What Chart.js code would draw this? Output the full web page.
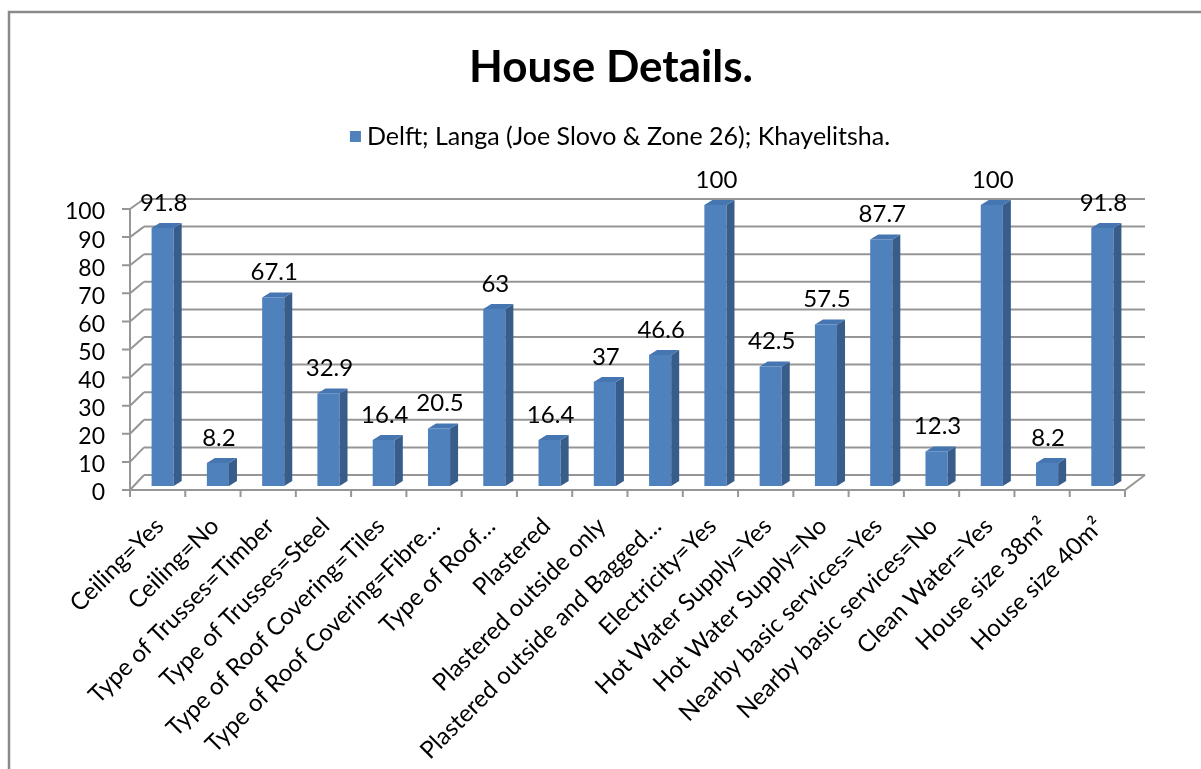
<!DOCTYPE html>
<html>
<head>
<meta charset="utf-8">
<title>House Details.</title>
<script src="https://cdn.jsdelivr.net/npm/chart.js@4/dist/chart.umd.min.js"></script>
<style>
  html, body { margin: 0; padding: 0; background: #fff; }
  #wrap { width: 1201px; height: 769px; position: relative; }
</style>
</head>
<body>
<div id="wrap"><canvas id="myChart" width="1201" height="769"></canvas></div>
<script>
const chartTitle = 'House Details.';
const seriesName = 'Delft; Langa (Joe Slovo & Zone 26); Khayelitsha.';
const categories = [
  'Ceiling=Yes', 'Ceiling=No', 'Type of Trusses=Timber', 'Type of Trusses=Steel',
  'Type of Roof Covering=Tiles', 'Type of Roof Covering=Fibre\u2026', 'Type of Roof\u2026',
  'Plastered', 'Plastered outside only', 'Plastered outside and Bagged\u2026',
  'Electricity=Yes', 'Hot Water Supply=Yes', 'Hot Water Supply=No',
  'Nearby basic services=Yes', 'Nearby basic services=No', 'Clean Water=Yes',
  'House size 38m\u00b2', 'House size 40m\u00b2'
];
const percentValues = [91.8, 8.2, 67.1, 32.9, 16.4, 20.5, 63, 16.4, 37, 46.6, 100, 42.5, 57.5, 87.7, 12.3, 100, 8.2, 91.8];
const yTicks = [0, 10, 20, 30, 40, 50, 60, 70, 80, 90, 100];

const blue = '#4f81bd';
const blueSide = '#385d8a';
const blueTop = '#4676b2';
const gridGray = '#969696';
const fontFam = 'Lato, "Open Sans", sans-serif';

Chart.defaults.font.family = fontFam;
Chart.defaults.color = '#000';

// walls, floor and front axis of the 3-D look
const walls3d = {
  id: 'walls3d',
  beforeDatasetsDraw(chart) {
    const ctx = chart.ctx, ca = chart.chartArea, ys = chart.scales.y;
    const xf0 = ca.left - 5, xf1 = ca.right - 5;
    const xb0 = ca.left + 9, xb1 = ca.right + 15;
    const fy = v => ys.getPixelForValue(v) + 4;
    const by = v => ys.getPixelForValue(v) - 11 + v * 0.05;
    ctx.save();
    ctx.strokeStyle = gridGray;
    ctx.lineWidth = 2;
    yTicks.forEach(v => {
      ctx.beginPath();
      ctx.moveTo(xb0, by(v)); ctx.lineTo(xb1, by(v));
      ctx.moveTo(xf0, fy(v)); ctx.lineTo(xb0, by(v));
      ctx.moveTo(xf0 - 8, fy(v)); ctx.lineTo(xf0, fy(v));
      ctx.stroke();
    });
    ctx.beginPath();
    ctx.moveTo(xf0, fy(100)); ctx.lineTo(xf0, fy(0));
    ctx.lineTo(xf1, fy(0)); ctx.lineTo(xb1, by(0));
    ctx.stroke();
    const n = categories.length;
    for (let i = 0; i <= n; i++) {
      const x = xf0 + (xf1 - xf0) * i / n;
      ctx.beginPath();
      ctx.moveTo(x, fy(0)); ctx.lineTo(x, fy(0) + 7);
      ctx.stroke();
    }
    ctx.restore();
  },
  afterDatasetsDraw(chart) {
    const ctx = chart.ctx;
    const meta = chart.getDatasetMeta(0);
    const dx = 8, dy = 5;
    ctx.save();
    meta.data.forEach((bar, i) => {
      const l = bar.x - bar.width / 2, r = bar.x + bar.width / 2;
      const top = bar.y, base = bar.base;
      ctx.fillStyle = blueSide;
      ctx.beginPath();
      ctx.moveTo(r, top); ctx.lineTo(r + dx, top - dy);
      ctx.lineTo(r + dx, base - dy); ctx.lineTo(r, base);
      ctx.closePath(); ctx.fill();
      ctx.fillStyle = blueTop;
      ctx.beginPath();
      ctx.moveTo(l, top); ctx.lineTo(l + dx, top - dy);
      ctx.lineTo(r + dx, top - dy); ctx.lineTo(r, top);
      ctx.closePath(); ctx.fill();
      // value label
      ctx.fillStyle = '#000';
      ctx.font = '24px ' + fontFam;
      ctx.textAlign = 'center';
      ctx.textBaseline = 'middle';
      ctx.fillText(String(percentValues[i]), bar.x + 1, top - 25);
    });
    ctx.restore();
  },
  afterDraw(chart) {
    const ctx = chart.ctx;
    ctx.save();
    // outer frame (only left and top visible)
    ctx.strokeStyle = '#8a8a8a';
    ctx.lineWidth = 2.5;
    ctx.beginPath();
    ctx.moveTo(9, 769); ctx.lineTo(9, 12); ctx.lineTo(1201, 12);
    ctx.stroke();
    // title
    ctx.fillStyle = '#000';
    ctx.font = 'bold 44px ' + fontFam;
    ctx.textAlign = 'center';
    ctx.textBaseline = 'middle';
    ctx.fillText(chartTitle, 611, 68);
    // legend
    ctx.font = '25px ' + fontFam;
    const tw = ctx.measureText(seriesName).width;
    const total = 11 + 6 + tw;
    const x0 = 620 - total / 2;
    ctx.fillStyle = blue;
    ctx.fillRect(x0, 131, 11, 11);
    ctx.fillStyle = '#000';
    ctx.textAlign = 'left';
    ctx.fillText(seriesName, x0 + 17, 137);
    ctx.restore();
  }
};

const ctx = document.getElementById('myChart').getContext('2d');
const chart = new Chart(ctx, {
  type: 'bar',
  data: {
    labels: categories,
    datasets: [{
      label: seriesName,
      data: percentValues,
      backgroundColor: blue,
      borderWidth: 0,
      barPercentage: 0.4,
      categoryPercentage: 1.0
    }]
  },
  options: {
    responsive: false,
    animation: false,
    layout: { padding: { top: 205, left: 0, right: 71, bottom: 0 } },
    plugins: {
      legend: { display: false },
      title: { display: false },
      tooltip: { enabled: false }
    },
    scales: {
      x: {
        grid: { display: false, drawTicks: false },
        border: { display: false },
        ticks: {
          autoSkip: false,
          minRotation: 45,
          maxRotation: 45,
          padding: 26,
          labelOffset: -3,
          font: { size: 24 },
          color: '#000'
        },
        afterFit(s) { s.height = 283; }
      },
      y: {
        min: 0,
        max: 100,
        grid: { display: false, drawTicks: false },
        border: { display: false },
        ticks: {
          autoSkip: false,
          stepSize: 10,
          padding: 30,
          labelOffset: 7,
          font: { size: 23 },
          color: '#000'
        },
        afterFit(s) { s.width = 135; }
      }
    }
  },
  plugins: [walls3d]
});
</script>
</body>
</html>
